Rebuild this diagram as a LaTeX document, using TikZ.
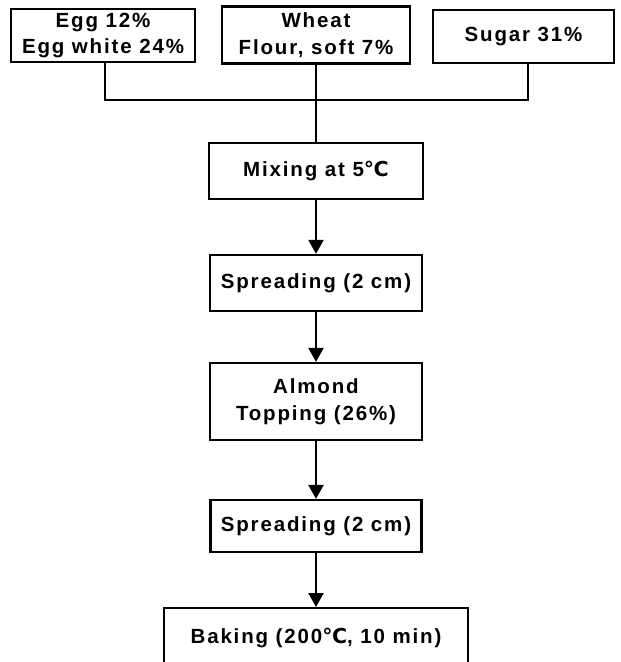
\documentclass[tikz,border=0pt]{standalone}
\usepackage{fontspec}
\setmainfont{Liberation Sans}[LetterSpace=9]
\newfontfamily\degfont{DejaVu Sans}
\usetikzlibrary{arrows.meta}
\newcommand{\degC}{{\degfont\bfseries ℃}}
\begin{document}
\begin{tikzpicture}[x=1pt,y=-1pt,
  box/.style={draw,line width=2.3pt,inner sep=0pt,align=center,font=\fontsize{20.5}{26.5}\selectfont\bfseries},
  conn/.style={line width=2.3pt},
  arr/.style={line width=2.3pt,-{Triangle[width=15pt,length=14pt]}}]
\useasboundingbox (0,0) rectangle (621,662);
\node[box,minimum width=184pt,minimum height=53pt] (egg) at (103,35.5) {Egg 12\%\\Egg white 24\%};
\node[box,minimum width=188pt,minimum height=57pt] (wheat) at (316,35) {Wheat\\Flour, soft 7\%};
\node[box,minimum width=181pt,minimum height=53pt] (sugar) at (523.5,36.5) {Sugar 31\%};
\node[box,minimum width=214pt,minimum height=56pt] (mix) at (316,171) {Mixing at 5\degC};
\node[box,minimum width=212pt,minimum height=56pt] (sp1) at (316,283) {Spreading (2 cm)};
\node[box,minimum width=212pt,minimum height=77pt] (alm) at (316,401.5) {Almond\\Topping (26\%)};
\node[box,minimum width=211pt,minimum height=52pt] (sp2) at (316,526) {Spreading (2 cm)};
\node[box,minimum width=304pt,minimum height=60pt,anchor=north] (bak) at (316,607) {Baking (200\degC, 10 min)};
\coordinate (j) at (316,100);
\draw[conn] (egg.south -| 105,0) |- (j) -| (sugar.south -| 528,0);
\draw[conn] (wheat.south) -- (mix.north);
\draw[arr] (mix) -- (sp1);
\draw[arr] (sp1) -- (alm);
\draw[arr] (alm) -- (sp2);
\draw[arr] (sp2) -- (bak);
\end{tikzpicture}
\end{document}
